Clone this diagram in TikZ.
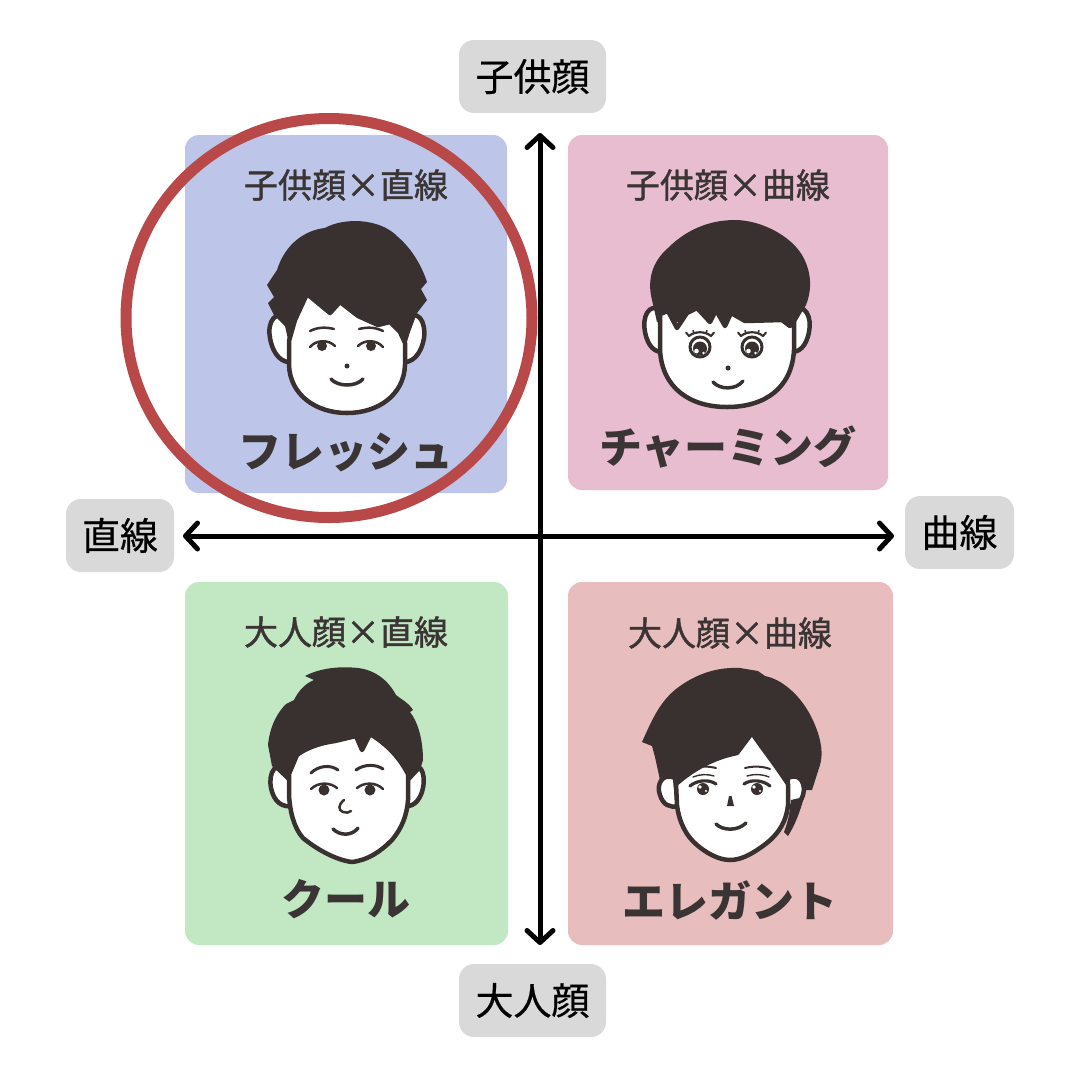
\documentclass[tikz,border=0pt]{standalone}
\usepackage{fontspec}
\newfontfamily\jp{Noto Sans CJK JP}
\newfontfamily\jpm[FakeBold=1.2]{Noto Sans CJK JP}
\newfontfamily\jpl[FakeBold=0.5]{Noto Sans CJK JP}
\usetikzlibrary{arrows.meta}
\definecolor{hair}{HTML}{393130}
\definecolor{qtext}{HTML}{3A3434}
\definecolor{qblue}{HTML}{BDC6E8}
\definecolor{qpinkA}{HTML}{E8BDD0}
\definecolor{qgreen}{HTML}{C2E8C3}
\definecolor{qpinkB}{HTML}{E8BDBD}
\definecolor{lab}{HTML}{D9D9D9}
\definecolor{ring}{HTML}{B94849}
\tikzset{
  qbox/.style={draw=none, rounded corners=14, inner sep=0},
  axlab/.style={fill=lab, rounded corners=15, minimum height=73, inner sep=0,
    font=\jpl\fontsize{38}{38}\selectfont, text=black, text height=31.5pt, text depth=2.7pt},
  qtitle/.style={font=\jpm\fontsize{34}{34}\selectfont, text=qtext, inner sep=0, text height=28.2pt, text depth=2.4pt},
  qname/.style={font=\jp\bfseries\fontsize{43}{43}\selectfont, text=qtext, inner sep=0, text height=35.7pt, text depth=3pt},
  axis/.style={line width=5, draw=black, {Straight Barb[length=12, width=26, round]}-{Straight Barb[length=12, width=26, round]}},
  hairfill/.style={fill=hair, draw=none},
  skin/.style={fill=white, draw=hair, line width=4.5, line join=round},
  feat/.style={draw=hair, line width=3, line cap=round},
}
\begin{document}
\begin{tikzpicture}[x=1pt,y=-1pt]
\useasboundingbox[fill=white] (0,0) rectangle (1080,1080);

% quadrant boxes
\node[qbox, fill=qblue,  minimum width=322, minimum height=358] (qtl) at (346,314) {};
\node[qbox, fill=qpinkA, minimum width=320, minimum height=355] (qtr) at (728,312.5) {};
\node[qbox, fill=qgreen, minimum width=323, minimum height=363] (qbl) at (346.5,763.5) {};
\node[qbox, fill=qpinkB, minimum width=325, minimum height=363] (qbr) at (730.5,763.5) {};

% titles and names
\node[qtitle] (ttl) at (346,185) {子供顔×直線};
\node[qtitle] (ttr) at (728,185) {子供顔×曲線};
\node[qtitle] (tbl) at (346,632) {大人顔×直線};
\node[qtitle] (tbr) at (730,633) {大人顔×曲線};
\node[qname] (ntl) at (346,451) {フレッシュ};
\node[qname] (ntr) at (728,447) {チャーミング};
\node[qname] (nbl) at (346,899) {クール};
\node[qname] (nbr) at (730,901) {エレガント};

% ===== face TL (fresh) =====
\draw[skin] (292,318) .. controls (275,308) and (267,322) .. (270,338) .. controls (273,355) and (282,364) .. (294,362) -- cycle;
\draw[skin] (402,318) .. controls (419,308) and (426,322) .. (424,338) .. controls (421,355) and (412,364) .. (400,362) -- cycle;
\fill[hairfill] (290,348) -- (285,326) -- (274,315) -- (268,303) -- (274,297) -- (267,285) -- (277,270)
  .. controls (285,244) and (305,230) .. (325,228) .. controls (342,218) and (379,217) .. (398,237)
  .. controls (413,250) and (422,267) .. (427,282) -- (421,289) -- (427,300) -- (417,313) -- (410,332) -- (405,348) -- cycle;
\draw[skin] (289,341) -- (295,320) -- (307,294) -- (330,313) -- (340,302) -- (358,316) -- (378,325) -- (390,322) -- (400,332) -- (405,343)
  -- (405,365) .. controls (404,395) and (378,413) .. (347,413) .. controls (316,413) and (290,395) .. (289,365) -- cycle;
\draw[feat, line width=2.5] (310,331) .. controls (318,327) and (326,327) .. (334,329);
\draw[feat, line width=2.5] (359,329) .. controls (367,327) and (375,327) .. (383,331);
\fill[hair] (322,346) circle (5);
\fill[hair] (371,346) circle (5);
\draw[feat, line width=2.5] (310,347) .. controls (316,340) and (328,339) .. (335,346);
\draw[feat, line width=2.5] (358,346) .. controls (365,339) and (377,340) .. (383,347);
\fill[hair] (347,366) circle (2.5);
\draw[feat, line width=3.5] (331,379) .. controls (338,387) and (356,387) .. (363,379);

% ===== face TR (charming) =====
\draw[skin] (662,310) .. controls (648,302) and (642,318) .. (645,332) .. controls (648,347) and (655,353) .. (665,352) -- cycle;
\draw[skin] (791,310) .. controls (806,302) and (812,318) .. (809,332) .. controls (806,347) and (799,353) .. (789,352) -- cycle;
\fill[hairfill] (657,322) -- (652,300) .. controls (647,280) and (652,262) .. (668,248) .. controls (690,226) and (715,220) .. (735,220)
  .. controls (760,220) and (790,235) .. (802,255) .. controls (812,272) and (812,290) .. (806,305) -- (796,322) -- cycle;
\draw[skin] (660,314) -- (668,311) -- (677,328) -- (687,313) -- (697,308) -- (710,322) -- (716,310) -- (725,326) -- (731,313) -- (745,321) -- (782,320) -- (790,326) -- (794,314)
  -- (794,350) .. controls (792,388) and (765,407) .. (727,407) .. controls (690,407) and (662,388) .. (660,350) -- cycle;
\foreach \ex in {700,752}{
  \draw[hair, line width=3, fill=white] (\ex,347) circle (10);
  \fill[hair] (\ex,348.5) circle (7);
  \fill[white] (\ex-3.5,351) circle (2.3);
  \fill[white] (\ex+3.5,353) circle (1.4);
  \draw[feat, line width=2.2] (\ex-11,336) .. controls (\ex-5,331) and (\ex+5,331) .. (\ex+11,336);
  \draw[feat, line width=2] (\ex-11,336) -- (\ex-14,332.5);
  \draw[feat, line width=2] (\ex+11,336) -- (\ex+14,332.5);
  \draw[feat, line width=1.6] (\ex-6,333) -- (\ex-7,330.5);
  \draw[feat, line width=1.6] (\ex+6,333) -- (\ex+7,330.5);
}
\fill[hair] (728,368) circle (2.5);
\draw[feat, line width=3.5] (713,382) .. controls (720,390) and (736,390) .. (743,381);

% ===== face BL (cool) =====
\draw[skin] (290,768) .. controls (276,760) and (268,772) .. (271,788) .. controls (274,802) and (282,808) .. (294,806) -- cycle;
\draw[skin] (406,768) .. controls (420,760) and (426,772) .. (423,788) .. controls (420,802) and (412,808) .. (402,806) -- cycle;
\fill[hairfill] (292,785) -- (272,766) -- (268,745) .. controls (270,725) and (278,712) .. (286,704) -- (294,700)
  .. controls (298,692) and (304,684) .. (314,680) -- (305,676) .. controls (320,668) and (340,666) .. (358,668)
  .. controls (375,670) and (388,680) .. (396,695) .. controls (402,700) and (408,702) .. (413,710) -- (410,712)
  .. controls (418,722) and (423,740) .. (423,760) -- (420,770) -- (406,785) -- cycle;
\draw[skin] (289,774) -- (297,755) .. controls (306,748) and (320,743) .. (335,741) -- (356,736) -- (362,750) -- (370,734)
  .. controls (385,743) and (398,755) .. (408,774)
  -- (408,800) .. controls (407,815) and (402,828) .. (392,840) .. controls (380,852) and (368,860) .. (352,862)
  .. controls (335,860) and (315,848) .. (303,838) .. controls (294,828) and (290,812) .. (289,795) -- cycle;
\draw[feat, line width=3] (311,773) .. controls (318,766) and (330,764) .. (338,770);
\draw[feat, line width=3] (356,770) .. controls (364,764) and (376,764) .. (383,769);
\fill[hair] (324,790) circle (5.5);
\fill[hair] (370,790) circle (5.5);
\draw[feat, line width=2.5] (311,789) .. controls (318,782) and (330,782) .. (337,788);
\draw[feat, line width=2.5] (357,788) .. controls (364,782) and (376,782) .. (383,789);
\draw[feat, line width=2.5] (344,800) .. controls (338,805) and (338,810) .. (343,812) .. controls (346,813) and (349,813) .. (351,811);
\draw[feat, line width=3.5] (333,829) .. controls (340,836) and (352,836) .. (358,828);

% ===== face BR (elegant) =====
\fill[hairfill] (672,790) -- (660,780) -- (655,757) -- (652,746) -- (642,742) .. controls (652,720) and (660,700) .. (680,686)
  .. controls (700,672) and (720,667) .. (740,668) -- (758,671) -- (765,676) .. controls (785,680) and (805,700) .. (815,725)
  .. controls (822,742) and (823,755) .. (820,765) -- (812,790) -- cycle;
\draw[skin] (675,778) .. controls (662,772) and (656,785) .. (660,795) .. controls (663,805) and (670,808) .. (678,806) -- cycle;
\draw[skin] (788,778) .. controls (801,772) and (806,785) .. (803,795) .. controls (800,805) and (793,808) .. (786,806) -- cycle;
\draw[skin] (676,784) .. controls (692,770) and (712,758) .. (737,753) -- (752,733) .. controls (762,748) and (775,764) .. (788,784)
  -- (788,805) .. controls (786,825) and (775,838) .. (760,848) .. controls (750,855) and (740,860) .. (730,860)
  .. controls (718,860) and (705,852) .. (697,845) .. controls (686,836) and (679,822) .. (677,805) -- cycle;
\fill[hairfill] (804,797) .. controls (800,812) and (795,825) .. (788,836) -- (784,832) .. controls (788,822) and (790,812) .. (791,800) -- cycle;
\draw[feat, line width=2] (692,769) .. controls (700,766) and (708,766) .. (716,768);
\draw[feat, line width=2] (745,768) .. controls (753,766) and (762,766) .. (770,769);
\draw[feat, line width=1.4] (693,777) .. controls (700,774) and (708,774) .. (714,776);
\draw[feat, line width=1.4] (747,776) .. controls (753,774) and (762,774) .. (769,777);
\foreach \ex in {703,757}{
  \fill[hair] (\ex,789) circle (6);
  \fill[white] (\ex-3,787) circle (1.8);
  \fill[white] (\ex+3,791) circle (1.2);
}
\draw[feat, line width=3.2] (690,786) .. controls (697,780) and (709,779) .. (716,784);
\draw[feat, line width=3.2] (744,784) .. controls (751,779) and (763,780) .. (770,786);
\fill[hair] (729,796) -- (731.5,796) -- (734,806) -- (727,806) -- cycle;
\draw[feat, line width=3.5] (716,824) .. controls (723,831) and (738,831) .. (746,823);

% red ring
\draw[ring, line width=11] (329,318) ellipse [x radius=203, y radius=199.5];

% axis labels
\node[axlab, minimum width=147] (ytop) at (532.5,76.5) {子供顔};
\node[axlab, minimum width=147] (ybot) at (532.5,1000.5) {大人顔};
\node[axlab, minimum width=108] (xleft) at (120,535.5) {直線};
\node[axlab, minimum width=109] (xright) at (959.5,532.5) {曲線};

% axes
\coordinate (atop) at (540,133);
\coordinate (abot) at (540,945);
\coordinate (aleft) at (183,536);
\coordinate (aright) at (894,536);
\draw[axis] (abot) -- (atop);
\draw[axis] (aleft) -- (aright);
\end{tikzpicture}
\end{document}
